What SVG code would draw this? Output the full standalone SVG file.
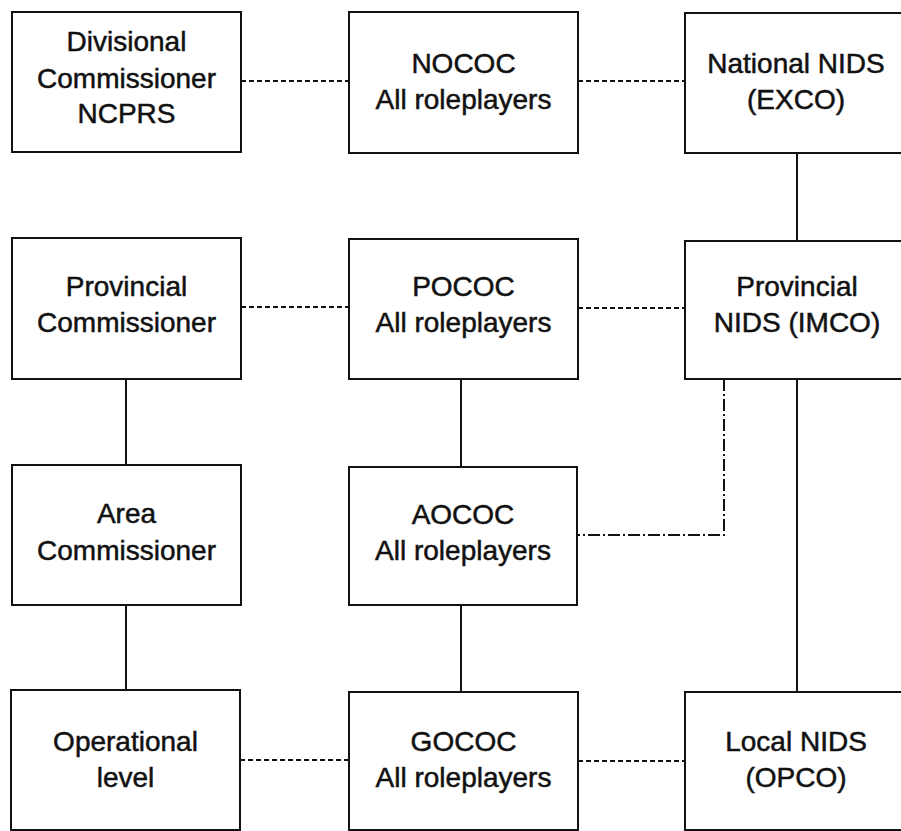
<svg xmlns="http://www.w3.org/2000/svg" width="901" height="831" viewBox="0 0 901 831">
<style>
.box{fill:#fff;stroke:#111;stroke-width:2}
.t{font-family:"Liberation Sans",Arial,sans-serif;font-size:28px;fill:#111;stroke:#111;stroke-width:0.5;text-anchor:middle}
.solid{stroke:#111;stroke-width:2;fill:none}
.dot{stroke:#111;stroke-width:2;fill:none;stroke-dasharray:5 3}
.dashdot{stroke:#111;stroke-width:2;fill:none;stroke-dasharray:12 3 2 3}
</style>
<rect width="901" height="831" fill="#fff"/>
<g id="connectors">
<line class="dot" x1="241" y1="81" x2="349" y2="81"/>
<line class="dot" x1="578" y1="81" x2="685" y2="81"/>
<line class="solid" x1="797" y1="153" x2="797" y2="241"/>
<line class="dot" x1="241" y1="307" x2="349" y2="307"/>
<line class="dot" x1="578" y1="308" x2="685" y2="308"/>
<line class="solid" x1="126" y1="379" x2="126" y2="465"/>
<line class="solid" x1="461" y1="379" x2="461" y2="467"/>
<polyline class="dashdot" points="724,379 724,535 577,535"/>
<line class="solid" x1="797" y1="379" x2="797" y2="692"/>
<line class="solid" x1="126" y1="605" x2="126" y2="690"/>
<line class="solid" x1="461" y1="605" x2="461" y2="692"/>
<line class="dot" x1="240" y1="760" x2="349" y2="760"/>
<line class="dot" x1="578" y1="761" x2="685" y2="761"/>
</g>
<g id="divisional-commissioner">
<rect class="box" x="12" y="12" width="229" height="140"/>
<text class="t" x="126.5" y="51">Divisional</text>
<text class="t" x="126.5" y="88">Commissioner</text>
<text class="t" x="126.5" y="123">NCPRS</text>
</g>
<g id="nococ">
<rect class="box" x="349" y="12" width="229" height="141"/>
<text class="t" x="463.5" y="73">NOCOC</text>
<text class="t" x="463.5" y="109">All roleplayers</text>
</g>
<g id="national-nids">
<rect class="box" x="685" y="13" width="224" height="140"/>
<text class="t" x="796" y="73">National NIDS</text>
<text class="t" x="796" y="109">(EXCO)</text>
</g>
<g id="provincial-commissioner">
<rect class="box" x="12" y="238" width="229" height="141"/>
<text class="t" x="126.5" y="296">Provincial</text>
<text class="t" x="126.5" y="332">Commissioner</text>
</g>
<g id="pococ">
<rect class="box" x="349" y="239" width="229" height="140"/>
<text class="t" x="463.5" y="296">POCOC</text>
<text class="t" x="463.5" y="332">All roleplayers</text>
</g>
<g id="provincial-nids">
<rect class="box" x="685" y="241" width="224" height="138"/>
<text class="t" x="797" y="296">Provincial</text>
<text class="t" x="797" y="332">NIDS (IMCO)</text>
</g>
<g id="area-commissioner">
<rect class="box" x="12" y="465" width="229" height="140"/>
<text class="t" x="126.5" y="523">Area</text>
<text class="t" x="126.5" y="560">Commissioner</text>
</g>
<g id="aococ">
<rect class="box" x="349" y="467" width="228" height="138"/>
<text class="t" x="463" y="524">AOCOC</text>
<text class="t" x="463" y="560">All roleplayers</text>
</g>
<g id="operational-level">
<rect class="box" x="11" y="690" width="229" height="140"/>
<text class="t" x="125.5" y="751">Operational</text>
<text class="t" x="125.5" y="787">level</text>
</g>
<g id="gococ">
<rect class="box" x="349" y="692" width="229" height="138"/>
<text class="t" x="463.5" y="751">GOCOC</text>
<text class="t" x="463.5" y="787">All roleplayers</text>
</g>
<g id="local-nids">
<rect class="box" x="685" y="692" width="224" height="138"/>
<text class="t" x="796" y="751">Local NIDS</text>
<text class="t" x="796" y="787">(OPCO)</text>
</g>
</svg>
